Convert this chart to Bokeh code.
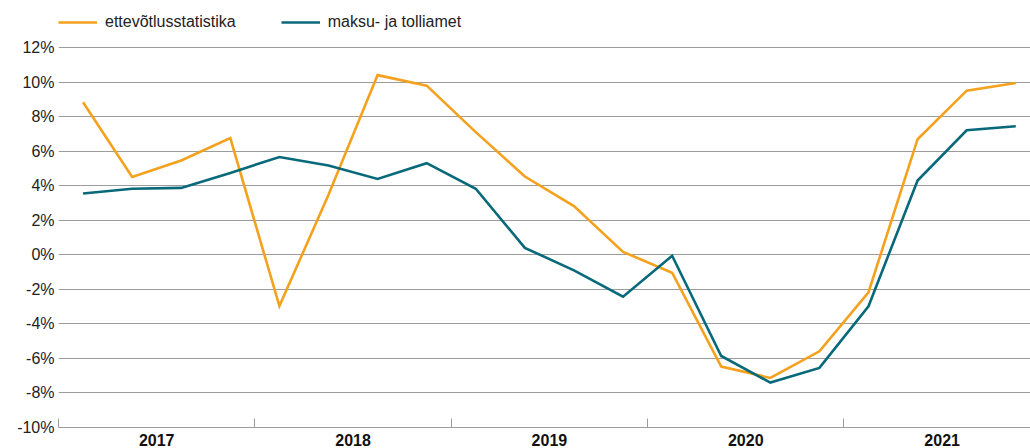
from bokeh.plotting import figure
from bokeh.models import Range1d, FixedTicker, PrintfTickFormatter, Legend, LegendItem
from bokeh.embed import file_html
from bokeh.resources import INLINE

# ---- data ----
years = ["2017", "2018", "2019", "2020", "2021"]
quarters_per_year = 4
ettevotlusstatistika = [8.83, 4.51, 5.46, 6.75,
                        -2.97, 3.47, 10.4, 9.79,
                        7.1, 4.53, 2.82, 0.17,
                        -1.04, -6.47, -7.13, -5.59,
                        -2.17, 6.69, 9.5, 9.94]
maksu_ja_tolliamet = [3.55, 3.82, 3.87, 4.74,
                      5.66, 5.17, 4.39, 5.3,
                      3.82, 0.40, -0.9, -2.43,
                      -0.06, -5.86, -7.4, -6.55,
                      -2.98, 4.3, 7.21, 7.44]
y_ticks = [-10, -8, -6, -4, -2, 0, 2, 4, 6, 8, 10, 12]
series_names = ["ettevõtlusstatistika", "maksu- ja tolliamet"]

# ---- styles ----
ORANGE = "#F4A11D"
TEAL = "#08697A"
GRID = "#9c9c9c"
FONT = "Liberation Sans"
TEXT = "#222222"

n = len(ettevotlusstatistika)
x = [i + 0.5 for i in range(n)]
label_pos = [i * quarters_per_year + quarters_per_year // 2 for i in range(len(years))]
boundaries = [i * quarters_per_year for i in range(len(years))]

# frame spans the full height; the space above 12% holds the legend
p = figure(width=1030, height=448,
           min_border_left=58, min_border_right=0, min_border_top=0, min_border_bottom=21,
           x_range=Range1d(0, 19.8), y_range=Range1d(y_ticks[0], 14.72),
           output_backend="svg", toolbar_location=None)
p.outline_line_color = None
p.background_fill_color = "white"

r1 = p.line(x, ettevotlusstatistika, line_color=ORANGE, line_width=2.6, line_join="miter")
r2 = p.line(x, maksu_ja_tolliamet, line_color=TEAL, line_width=2.6, line_join="miter")

# y axis
yt = FixedTicker(ticks=y_ticks)
p.yaxis.ticker = yt
p.yaxis.formatter = PrintfTickFormatter(format="%d%%")
p.yaxis.axis_line_color = None
p.yaxis.major_tick_line_color = None
p.yaxis.minor_tick_line_color = None
p.yaxis.major_tick_in = 0
p.yaxis.major_tick_out = 0
p.yaxis.minor_tick_in = 0
p.yaxis.minor_tick_out = 0
p.yaxis.major_label_standoff = 4
p.yaxis.major_label_text_font = FONT
p.yaxis.major_label_text_font_size = "16px"
p.yaxis.major_label_text_color = TEXT

p.ygrid.ticker = yt
p.ygrid.grid_line_color = GRID
p.ygrid.grid_line_width = 1
p.xgrid.grid_line_color = None

# x axis
p.xaxis.ticker = FixedTicker(ticks=label_pos, minor_ticks=boundaries)
p.xaxis.major_label_overrides = {pos: yr for pos, yr in zip(label_pos, years)}
p.xaxis.major_tick_line_color = None
p.xaxis.major_tick_in = 0
p.xaxis.major_tick_out = 0
p.xaxis.minor_tick_in = 9
p.xaxis.minor_tick_out = 0
p.xaxis.minor_tick_line_color = GRID
p.xaxis.axis_line_color = GRID
p.xaxis.axis_line_width = 1
p.xaxis.major_label_standoff = 6
p.xaxis.major_label_text_font = FONT
p.xaxis.major_label_text_font_size = "16px"
p.xaxis.major_label_text_font_style = "bold"
p.xaxis.major_label_text_color = "#111111"

legend = Legend(items=[LegendItem(label=series_names[0], renderers=[r1]),
                       LegendItem(label=series_names[1], renderers=[r2])],
                orientation="horizontal", location="top_left",
                glyph_width=39, glyph_height=44, label_height=44, label_width=10,
                label_standoff=8, spacing=45,
                padding=3, margin=0, border_line_color=None,
                background_fill_alpha=0,
                label_text_font=FONT, label_text_font_size="16px",
                label_text_color=TEXT)
p.add_layout(legend, "center")

open("out.html", "w").write(file_html(p, INLINE))
